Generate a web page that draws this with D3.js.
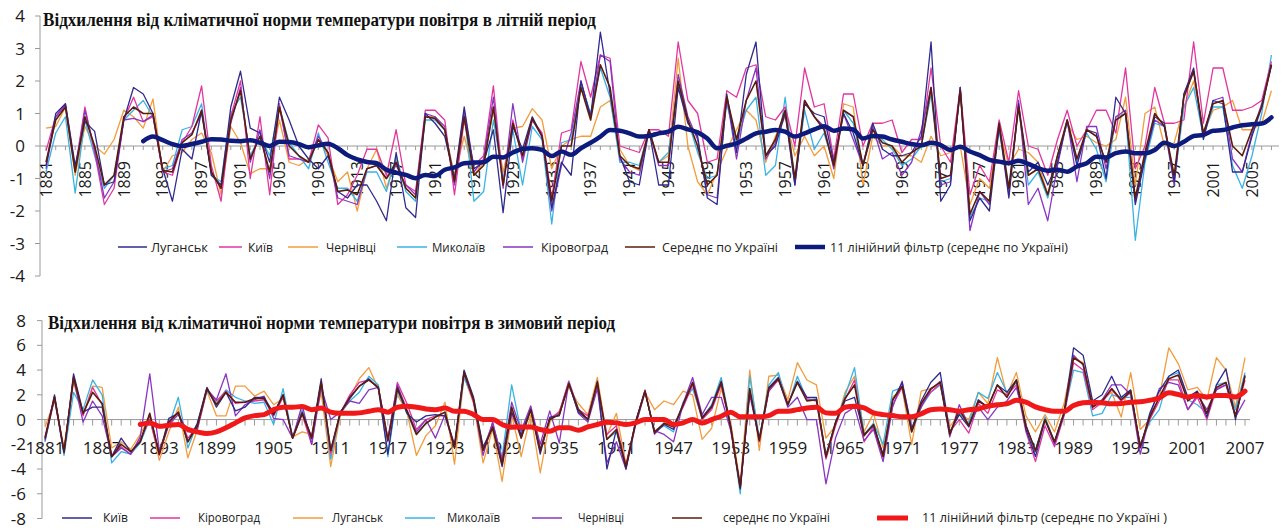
<!DOCTYPE html>
<html><head><meta charset="utf-8">
<script src="https://cdn.jsdelivr.net/npm/d3@7"></script>
<style>body{margin:0;background:#fff}svg{display:block}</style>
</head><body>
<svg id="c" width="1287" height="531"></svg>
<script>
// ---------- DATA ----------
const years = d3.range(1881, 2008);          // 1881..2007
const filterYears = d3.range(1891, 2008);    // filter shown from 1891

// Summer (top panel)
const summerTitle = "Відхилення від кліматичної норми температури повітря в літній період";
const summerYTicks = [-4,-3,-2,-1,0,1,2,3,4];
const summerXLabels = d3.range(1881, 2006, 4);
const sLugansk = [-0.6,1.0,1.3,-0.6,0.75,0.45,-1.2,-1.1,0.8,1.8, 1.6,1.0,-0.7,-1.7,-0.1,-0.4,1.1,-0.9,-1.2,1.2, 2.3,0.55,0.4,-0.5,1.5,0.8,0.0,-0.4,-0.7,-0.3, -1.4,-1.6,-1.2,-1.2,-1.7,-2.3,-0.2,-1.9,-2.2,1.0, 0.7,0.3,-1.0,1.2,-0.7,-0.5,0.5,-2.05,0.6,-0.1, 0.9,0.3,-1.9,-0.5,-0.9,2.0,0.9,3.5,1.6,-0.3, -1.1,-1.2,0.5,-1.2,-1.2,1.8,0.7,0.3,-1.6,-1.8, 1.6,-0.2,2.2,3.2,-0.3,0.0,1.0,-1.2,1.3,1.0, 0.9,-0.5,1.0,0.4,-0.6,0.7,-0.1,-0.3,-0.3,-0.2, 0.3,3.2,-1.7,-1.2,1.8,-2.3,-1.6,-2.0,0.6,-1.6, 1.3,-0.8,-0.5,-1.2,-0.5,0.8,-0.6,0.5,0.4,-1.0, 1.5,1.0,-1.8,-0.4,0.9,0.7,-1.1,1.6,2.4,0.2, 1.4,1.3,-0.8,-0.8,0.3,1.2,2.5];
const sKyiv = [-0.15,0.9,1.3,-0.7,1.2,-0.2,-1.8,-1.3,0.8,1.5, 0.75,0.9,-0.8,-0.9,0.1,0.6,1.85,-0.6,-1.7,0.9, 2.0,-1.0,0.9,-1.5,1.3,-0.4,-0.4,-0.5,0.65,0.25, -1.8,-1.5,-0.9,-0.1,-0.1,-0.9,0.5,-1.2,-1.4,1.1, 1.1,0.8,-1.5,0.8,-0.6,-0.3,1.85,-1.2,0.8,-0.4, 0.8,0.4,-1.6,0.4,0.5,2.6,1.5,2.8,2.7,0.0, -0.1,-0.2,0.5,0.5,0.3,3.2,1.4,1.0,-0.5,-0.4, 1.7,1.5,2.4,2.5,0.9,0.8,1.2,0.0,2.4,1.2, 1.3,-0.4,1.6,1.6,0.0,0.7,0.7,0.8,-0.2,0.2, 0.2,2.4,0.0,-0.5,1.8,-1.5,-0.6,-1.1,0.8,-0.5, 1.7,0.0,-0.1,-0.9,0.2,1.1,0.0,0.5,1.1,1.1, 0.4,2.4,-0.7,0.0,1.8,0.7,0.7,0.8,3.2,0.7, 2.4,2.4,1.1,1.1,1.2,1.4,2.6];
const sChernivtsi = [0.55,0.6,1.2,-0.9,0.6,0.0,-0.25,0.2,1.1,0.9, 0.55,1.45,-0.8,-0.3,-0.2,0.2,0.4,-0.2,-1.5,0.6, 0.1,-0.85,-0.7,-0.7,0.8,-0.5,-0.6,-0.4,0.2,-0.3, -1.1,-0.8,-2.0,-0.7,-0.1,-1.3,-0.4,-1.3,-1.6,0.9, 0.9,0.5,-0.9,0.3,-0.9,-0.5,1.1,-0.8,0.55,0.6, 1.15,0.8,-0.7,0.0,0.2,0.3,0.3,1.2,1.4,-0.1, -0.6,-0.75,0.5,-0.5,-0.3,2.7,0.0,-1.1,-1.5,-0.8, -0.1,0.5,1.1,0.8,-0.5,0.3,0.9,-0.3,0.3,-0.3, 0.0,-1.0,1.3,1.2,-1.2,0.3,0.0,0.0,-0.3,-0.3, -0.5,0.3,-0.3,-0.2,0.0,-1.8,-1.0,-1.3,0.5,-0.6, -0.1,-0.2,-0.5,-1.5,-0.3,0.7,0.2,0.3,0.1,0.0, 0.2,1.5,-1.2,1.0,1.2,0.0,0.1,1.2,2.0,0.4, 1.1,1.2,1.4,0.5,0.5,0.7,1.7];
const sMykolaiv = [-0.8,0.4,0.9,-1.45,0.8,-0.3,-1.3,-0.9,0.8,1.1, 1.4,0.9,-0.7,-0.6,0.5,0.6,1.3,-0.9,-1.1,1.0, 1.5,-0.3,0.3,-0.3,1.2,0.1,-0.3,-0.7,0.4,-0.5, -1.3,-1.3,-1.7,-0.8,-0.8,-1.4,-0.3,-1.4,-1.7,0.8, 0.8,0.5,-1.0,1.0,-1.7,-1.4,0.8,-1.0,0.5,-1.2, 0.6,0.2,-2.4,0.1,0.2,1.9,1.0,2.4,1.5,-0.5, -0.5,-0.6,0.5,-0.5,-0.2,1.9,0.8,-0.2,-1.0,-0.9, 1.3,0.1,1.1,1.5,-0.9,-0.6,1.5,-1.1,1.1,-0.1, 0.4,-0.6,1.1,0.7,-0.6,0.5,0.2,-0.1,-0.6,-0.4, 0.0,1.6,-1.1,-1.0,1.7,-2.2,-1.6,-1.7,0.5,-1.3, 1.2,-1.2,-0.8,-1.6,-0.3,0.7,-0.5,0.4,-0.1,-1.1, 0.9,1.0,-2.9,-0.5,0.7,0.6,-1.1,1.2,1.8,0.3, 1.2,1.2,-0.6,-1.3,-0.3,1.0,2.8];
const sKirovohrad = [-0.7,0.9,1.25,-0.75,1.1,-0.1,-1.6,-1.1,0.8,0.85, 0.75,0.95,-0.8,-0.7,0.2,0.4,1.0,-0.8,-1.3,0.7, 1.8,-0.5,0.5,-1.0,1.2,-0.3,-0.4,-0.5,0.3,-0.2, -1.6,-1.7,-1.8,-0.7,-0.6,-1.0,-0.6,-1.2,-1.5,1.0, 0.9,0.6,-1.2,1.1,-0.8,-0.4,1.5,-1.3,1.3,-0.5, 0.8,0.3,-2.0,-0.6,0.4,2.0,0.9,2.8,2.6,-0.4, -0.8,-0.9,0.5,-0.6,-0.6,2.2,0.9,0.2,-1.5,-1.6, 1.5,-0.4,1.4,2.4,-0.4,0.1,1.1,-1.2,1.4,0.9, 0.6,-0.7,1.0,0.2,-0.6,0.6,-0.4,-0.2,-0.9,-0.5, 0.5,1.8,-1.2,-1.1,1.8,-2.6,-1.4,-1.8,0.7,-1.5, 1.4,-1.8,-1.3,-2.3,-0.6,0.8,-1.1,0.6,0.6,-0.7, 0.9,1.1,-1.7,-0.3,0.8,0.6,-1.2,1.6,2.3,0.3, 1.4,1.5,-0.4,-0.8,0.4,1.3,2.5];
const sMean = [-0.5,0.8,1.2,-0.8,0.9,0.0,-1.2,-0.9,0.9,1.2, 1.0,1.0,-0.75,-0.8,0.1,0.35,1.1,-0.8,-1.3,0.8, 1.7,-0.4,0.3,-0.8,1.2,0.0,-0.3,-0.5,0.2,-0.2, -1.4,-1.35,-1.5,-0.7,-0.6,-1.0,-0.5,-1.3,-1.6,0.9, 0.85,0.5,-1.1,0.9,-0.9,-0.6,1.2,-1.2,0.7,-0.3, 0.85,0.3,-1.7,0.0,0.0,1.8,0.8,2.5,1.8,-0.3, -0.6,-0.7,0.5,-0.5,-0.5,2.0,0.8,0.0,-1.2,-0.9, 1.5,0.2,1.4,2.0,-0.3,0.2,1.1,-1.0,1.4,0.9, 0.5,-0.6,1.1,0.9,-0.6,0.5,0.1,0.0,-0.5,-0.2, 0.0,1.8,-1.0,-0.9,1.7,-2.1,-1.4,-1.7,0.7,-1.3, 1.2,-0.9,-0.7,-1.5,-0.3,0.8,-0.4,0.5,0.3,-0.5, 0.8,1.0,-1.6,-0.2,1.0,0.6,-0.9,1.5,2.3,0.4, 1.3,1.4,0.0,-0.3,0.5,1.2,2.5];
const sFilter = [0.15,0.29,0.18,0.06,0.0,0.06,0.13,0.21,0.2,0.16, 0.15,0.18,0.1,0.0,0.13,0.12,0.06,-0.04,0.02,0.07, -0.07,-0.28,-0.41,-0.49,-0.53,-0.73,-0.82,-0.89,-0.99,-0.89, -0.92,-0.73,-0.66,-0.53,-0.51,-0.5,-0.33,-0.35,-0.2,-0.09, -0.07,-0.12,-0.31,-0.17,-0.27,-0.07,0.1,0.29,0.49,0.47, 0.39,0.29,0.31,0.39,0.44,0.59,0.51,0.42,0.23,-0.07, 0.01,0.08,0.23,0.39,0.44,0.49,0.44,0.29,0.39,0.51, 0.61,0.47,0.54,0.51,0.23,0.31,0.29,0.2,0.13,0.06, 0.02,0.1,0.03,-0.12,-0.02,-0.17,-0.28,-0.43,-0.48,-0.53, -0.45,-0.55,-0.68,-0.76,-0.73,-0.79,-0.63,-0.53,-0.33,-0.35, -0.22,-0.17,-0.22,-0.22,-0.12,0.1,0.0,0.13,0.31,0.34, 0.47,0.49,0.57,0.64,0.67,0.69,0.88];

// Winter (bottom panel)
const winterTitle = "Відхилення від кліматичної норми температури повітря в зимовий період";
const winterYTicks = [-8,-6,-4,-2,0,2,4,6,8];
const winterXLabels = d3.range(1881, 2008, 6);
const wKyiv = [-1.6,2.0,-2.7,3.7,0.6,1.0,1.0,-3.0,-1.5,-2.6, -1.8,0.4,-2.8,0.1,0.5,-1.8,-0.3,2.6,1.0,2.2, 0.7,1.0,1.8,1.8,0.5,2.0,-1.5,0.6,-1.4,3.3, -2.5,0.6,1.7,2.7,3.3,2.5,-2.8,2.6,0.5,-0.2, 0.3,0.4,0.3,-2.0,4.0,1.8,-2.2,-0.7,-3.8,0.6, -1.2,0.8,-2.8,0.2,0.3,2.9,0.6,0.0,3.1,-4.0, -0.8,-4.0,-0.2,2.3,-1.1,-0.4,-0.8,1.2,3.0,0.2, 1.1,3.1,-0.6,-5.6,2.3,-1.6,2.6,3.4,1.2,3.1, 1.8,1.8,-3.0,-0.2,1.5,1.8,-1.2,-0.5,-2.8,1.5, 3.0,-0.8,1.5,3.0,3.8,-1.0,0.4,-0.6,1.6,1.0, 2.8,2.2,3.2,-0.8,-3.0,0.0,-1.8,0.6,5.8,5.2, 1.5,2.0,3.5,1.8,2.4,-2.3,0.5,2.3,3.5,4.0, 1.8,2.3,0.2,2.8,4.1,0.0,3.6];
const wKirovohrad = [-1.4,1.9,-2.6,3.5,0.3,2.6,1.2,-3.0,-2.2,-2.8, -1.6,0.0,-2.9,-0.3,0.6,-1.5,-0.6,2.5,1.5,2.3, 1.3,1.4,1.5,1.6,0.3,1.8,-1.5,0.4,-2.0,3.0, -2.8,0.5,2.0,3.0,3.2,2.6,-1.8,3.0,1.3,-0.8, 0.0,0.3,0.3,-2.2,3.8,1.4,-2.5,-0.3,-3.3,0.5, -1.5,0.8,-2.4,0.1,0.6,3.1,0.8,0.3,2.8,-1.2, -0.5,-3.7,-0.3,2.4,-1.2,-0.3,-0.5,1.0,2.8,0.0, 0.8,2.8,-0.8,-5.3,2.4,-1.8,2.3,3.2,1.3,3.0, 1.7,1.5,-3.2,-0.5,1.6,3.2,-1.8,-0.6,-3.0,1.2, 2.6,-0.9,1.2,2.2,2.9,-1.0,0.0,-1.1,1.3,0.5, 2.4,2.0,2.8,-1.0,-3.4,-0.5,-2.2,0.3,4.6,4.0, 0.8,1.4,2.4,1.5,2.2,-2.1,0.0,1.5,3.2,3.2, 0.8,1.8,0.0,2.5,2.8,0.3,3.2];
const wLugansk = [-0.6,1.5,-2.2,3.0,0.4,2.7,2.6,-2.3,-1.8,-2.4, -1.2,0.2,-3.3,-1.0,1.0,-3.1,-0.8,2.3,0.3,0.3, 2.7,2.7,1.9,2.3,1.2,1.7,-1.4,-1.0,-1.2,2.2, -3.8,0.3,1.8,3.3,4.2,2.5,-1.5,2.0,0.6,-2.9, -1.3,-0.5,1.4,-3.6,3.5,1.3,-3.5,-0.8,-5.0,0.4, -3.0,0.4,-4.3,-0.2,0.7,2.6,1.3,0.4,3.4,-1.3, 0.5,-3.6,-0.4,2.2,0.8,1.5,1.2,2.3,2.0,-1.6, -0.7,2.5,-0.2,-5.2,4.0,-2.5,3.5,3.6,1.6,4.6, 3.2,2.8,-1.5,-0.5,2.2,3.5,-1.0,0.5,-2.3,1.8, 2.5,-2.0,2.3,2.5,2.8,-0.6,0.5,0.0,2.2,1.3, 5.0,2.0,3.8,0.3,-1.0,0.4,-1.0,1.3,5.0,4.6, 1.0,1.6,2.2,0.2,3.8,-0.8,0.0,1.8,5.8,4.5, 2.4,2.6,1.6,5.0,4.0,1.0,5.0];
const wMykolaiv = [-1.8,1.8,-2.9,2.2,0.8,3.2,2.0,-3.5,-2.6,-2.8, -1.9,0.0,-2.6,-0.5,1.8,-2.3,-0.3,2.3,1.3,2.4, 1.8,1.5,1.3,1.4,-0.4,2.5,-1.4,0.8,-1.6,2.8, -3.2,0.5,1.5,2.2,3.5,2.8,-3.0,2.3,0.5,-1.2, -0.3,0.2,0.6,-2.3,3.4,1.6,-2.3,-0.4,-3.0,2.8, -1.0,1.0,-2.4,0.0,0.5,3.1,0.9,-0.1,2.9,-1.6, -1.0,-3.9,-0.2,2.3,-1.0,-0.5,-1.0,1.4,2.5,0.1, 1.2,3.4,-0.5,-6.0,3.5,-1.5,2.8,3.8,1.1,3.5, 1.6,1.7,-2.8,-0.3,1.9,4.2,-1.2,-0.3,-2.0,2.3, 2.6,-1.0,1.0,2.2,2.8,-1.1,0.5,-0.3,2.2,1.7, 3.8,2.2,3.0,-0.5,-2.6,0.2,-1.8,0.5,4.0,3.8, 0.3,0.5,2.0,1.8,1.8,-2.0,-0.2,0.8,3.5,3.8, 1.6,1.2,0.5,2.8,3.0,0.8,3.8];
const wChernivtsi = [-1.7,1.7,-2.6,3.3,-0.2,1.5,0.3,-3.0,-2.3,-2.8, -1.4,3.7,-2.5,-0.4,0.4,-1.0,-0.8,2.4,1.6,3.7, 0.3,1.2,1.6,1.9,0.1,0.0,-1.5,1.2,-2.0,2.6, 0.0,0.6,1.5,1.3,2.4,2.6,-1.5,2.8,0.8,-1.0, 0.0,-1.5,0.4,-2.3,3.9,1.5,-2.9,-0.2,-3.3,1.4, -0.9,1.1,-2.0,0.7,-1.9,3.0,0.5,-0.2,2.5,-3.5, -1.8,-4.0,-0.5,2.2,-0.9,-1.2,-1.8,1.3,3.4,0.4, 1.8,1.8,-0.9,-5.4,2.0,-1.6,2.3,3.3,1.0,1.8, 0.0,0.0,-5.2,-1.5,0.5,1.0,-1.7,-0.8,-3.4,1.0, 3.1,-0.7,1.0,2.4,3.1,-1.4,1.2,-0.5,1.0,0.0, 1.0,1.5,2.6,-0.5,-2.6,0.0,-2.0,0.4,5.2,4.4, 1.1,1.6,2.8,2.8,2.0,-2.8,0.3,2.5,3.0,2.8, 0.8,2.0,0.8,2.4,2.8,0.2,1.6];
const wMean = [-1.5,1.8,-2.6,3.4,0.5,2.2,1.3,-3.0,-2.0,-2.6, -1.8,0.5,-2.8,-0.2,0.6,-1.8,-0.5,2.5,1.2,2.2, 1.4,1.4,1.7,1.7,0.4,2.0,-1.5,0.5,-1.5,3.0, -2.5,0.5,1.8,2.7,3.2,2.6,-1.7,2.5,0.7,-1.2, -0.3,0.2,0.6,-2.3,3.8,1.6,-2.5,-0.6,-3.6,1.0, -1.5,0.8,-2.5,0.0,0.4,2.9,0.8,0.0,3.0,-1.6, -0.8,-3.8,-0.3,2.3,-1.0,-0.3,-0.6,1.2,3.0,0.1, 1.0,3.0,-0.6,-5.5,2.5,-1.7,2.5,3.3,1.2,3.0, 1.5,1.6,-3.0,-0.3,1.7,2.8,-1.3,-0.4,-3.0,1.6, 2.7,-1.0,1.3,2.5,3.0,-1.2,0.8,-0.5,1.5,1.0, 2.8,1.8,3.2,-0.5,-2.5,0.0,-1.8,0.5,5.0,4.5, 1.0,1.5,2.5,1.6,2.3,-2.2,0.2,1.8,3.3,3.6, 1.5,2.2,0.5,2.6,3.0,0.3,3.5];
const wFilter = [-0.4,-0.27,-0.54,-0.46,-0.4,-0.8,-1.0,-1.13,-1.0,-0.67, -0.27,0.13,0.32,0.4,0.8,1.0,1.0,1.05,0.8,0.94, 0.6,0.5,0.5,0.54,0.67,0.8,0.6,1.0,1.08,1.0, 0.86,0.8,0.94,0.67,0.67,0.4,0.0,0.0,-0.4,-0.62, -0.6,-0.6,-0.8,-0.94,-0.67,-0.67,-0.86,-0.6,-0.4,-0.22, -0.27,-0.4,-0.27,0.0,0.0,0.0,-0.4,-0.27,0.0,-0.27, 0.0,0.27,0.6,0.22,0.22,0.22,0.32,0.67,0.67,0.8, 0.94,1.0,0.54,0.5,1.0,1.08,0.94,0.54,0.4,0.32, 0.22,0.22,0.46,0.8,0.86,0.8,0.67,0.8,0.86,1.08, 1.2,1.27,1.56,1.4,1.02,0.8,0.67,0.67,1.13,1.35, 1.4,1.35,1.27,1.3,1.4,1.43,1.56,1.75,2.16,2.02, 1.83,1.94,1.83,1.94,1.94,1.83,2.3];

// ---------- DRAW ----------
const svg = d3.select("#c");
svg.append("rect").attr("width",1287).attr("height",531).attr("fill","#fff");
const AX = "#9a9a9a";
const labelLayer = svg.append("g");

function panel(o){
  const g = svg.append("g");
  const x = d3.scaleLinear().domain(o.xDom).range(o.xRng);
  const y = d3.scaleLinear().domain(o.yDom).range(o.yRng);
  // y axis line + ticks
  g.append("line").attr("x1",o.axisX).attr("x2",o.axisX).attr("y1",y(o.yDom[0])).attr("y2",y(o.yDom[1])).attr("stroke",AX);
  g.append("g").selectAll("line").data(o.yTicks).join("line")
    .attr("x1",o.axisX-5).attr("x2",o.axisX).attr("y1",d=>y(d)).attr("y2",d=>y(d)).attr("stroke",AX);
  // zero axis with yearly ticks
  g.append("line").attr("x1",o.axisX).attr("x2",o.xEnd).attr("y1",y(0)).attr("y2",y(0)).attr("stroke",AX).attr("stroke-width",1);
  g.append("g").selectAll("line").data(years).join("line")
    .attr("x1",d=>x(d)).attr("x2",d=>x(d)).attr("y1",y(0)).attr("y2",y(0)+o.tickLen).attr("stroke",AX);
  // x labels
  const xl = g.append("g").selectAll("text").data(o.xLabels).join("text")
    .text(d=>d).attr("fill","#1a1a1a")
    .style("font-family","'Open Sans',sans-serif").style("font-size",o.xFont+"px");
  if(o.rotate){
    xl.attr("transform",d=>`translate(${x(d)},${o.xLabelY}) rotate(-90)`).attr("text-anchor","end").attr("dy","0.36em");
  } else {
    xl.attr("x",d=>x(d)).attr("y",o.xLabelY).attr("text-anchor","middle");
  }
  // series
  const line = d3.line().x((d,i)=>x(years[i])).y(d=>y(d));
  o.series.forEach(s=>{
    g.append("path").datum(s.values).attr("d",line).attr("fill","none")
      .attr("stroke",s.color).attr("stroke-width",s.w).attr("stroke-linejoin","round");
  });
  const fline = d3.line().x((d,i)=>x(filterYears[i])).y(d=>y(d)).curve(d3.curveMonotoneX);
  g.append("path").datum(o.filter.values).attr("d",fline).attr("fill","none")
    .attr("stroke",o.filter.color).attr("stroke-width",o.filter.w).attr("stroke-linejoin","round").attr("stroke-linecap","round");
  // title
  g.append("text").attr("x",o.titleX).attr("y",o.titleY).text(o.title)
    .attr("textLength",o.titleLen).attr("lengthAdjust","spacingAndGlyphs")
    .style("font-family","'Liberation Serif',serif").style("font-weight","bold").style("font-size",o.titleFont+"px").attr("fill","#111");
  // legend
  const lg = g.append("g");
  o.legend.forEach(l=>{
    lg.append("line").attr("x1",l.x1).attr("x2",l.x2).attr("y1",o.legY).attr("y2",o.legY)
      .attr("stroke",l.color).attr("stroke-width",l.w);
    lg.append("text").attr("x",l.tx).attr("y",o.legY).attr("dy","0.35em").text(l.label)
      .attr("textLength",l.tw).attr("lengthAdjust","spacingAndGlyphs")
      .style("font-family","'Open Sans',sans-serif").style("font-size",o.legFont+"px").attr("fill","#222");
  });
  // y labels (top-most layer)
  labelLayer.append("g").selectAll("text").data(o.yTicks).join("text")
    .attr("x",o.yLabelX).attr("y",d=>y(d)).attr("dy","0.36em").attr("text-anchor","end")
    .text(d=>d).attr("fill","#1a1a1a")
    .style("font-family","'Open Sans',sans-serif").style("font-size",o.yFont+"px");
}

const C = {lug:"#2f2a8e", kyiv:"#e2359f", cher:"#f39c3c", myk:"#39b3e4", kir:"#8a35c2", mean:"#5b1c0c", fTop:"#0d1b7c", fBot:"#f01818"};

panel({
  xDom:[1881,2005], xRng:[46,1252], yDom:[-4,4], yRng:[276,16],
  axisX:40, xEnd:1279, yTicks:summerYTicks, yLabelX:25, yFont:17, tickLen:4,
  xLabels:summerXLabels, rotate:true, xLabelY:161, xFont:16,
  series:[
    {values:sChernivtsi,color:C.cher,w:1.3},
    {values:sMykolaiv,color:C.myk,w:1.3},
    {values:sKyiv,color:C.kyiv,w:1.3},
    {values:sKirovohrad,color:C.kir,w:1.3},
    {values:sLugansk,color:C.lug,w:1.3},
    {values:sMean,color:C.mean,w:1.6}
  ],
  filter:{values:sFilter,color:C.fTop,w:4.5},
  title:summerTitle, titleX:43, titleY:26, titleLen:553, titleFont:19,
  legY:247, legFont:13,
  legend:[
    {label:"Луганськ",x1:118,x2:147,tx:151,tw:57,color:C.lug,w:1.5},
    {label:"Київ",x1:219,x2:242,tx:248,tw:25,color:C.kyiv,w:1.5},
    {label:"Чернівці",x1:288,x2:318,tx:326,tw:50,color:C.cher,w:1.5},
    {label:"Миколаїв",x1:397,x2:427,tx:432,tw:53,color:C.myk,w:1.5},
    {label:"Кіровоград",x1:503,x2:533,tx:541,tw:67,color:C.kir,w:1.5},
    {label:"Середнє по Україні",x1:625,x2:655,tx:662,tw:116,color:C.mean,w:1.5},
    {label:"11 лінійний фільтр (середнє по Україні)",x1:795,x2:825,tx:830,tw:238,color:C.fTop,w:4.5}
  ]
});

panel({
  xDom:[1881,2007], xRng:[45,1245], yDom:[-8,8], yRng:[518.5,320.6],
  axisX:42, xEnd:1250, yTicks:winterYTicks, yLabelX:26, yFont:17, tickLen:6,
  xLabels:winterXLabels, rotate:false, xLabelY:454, xFont:17,
  series:[
    {values:wLugansk,color:C.cher,w:1.3},
    {values:wMykolaiv,color:C.myk,w:1.3},
    {values:wKirovohrad,color:C.kyiv,w:1.3},
    {values:wChernivtsi,color:C.kir,w:1.3},
    {values:wKyiv,color:C.lug,w:1.3},
    {values:wMean,color:C.mean,w:1.6}
  ],
  filter:{values:wFilter,color:C.fBot,w:5},
  title:winterTitle, titleX:48, titleY:329, titleLen:567, titleFont:19,
  legY:518, legFont:12.5,
  legend:[
    {label:"Київ",x1:62,x2:92,tx:103,tw:25,color:C.lug,w:1.5},
    {label:"Кіровоград",x1:150,x2:180,tx:198,tw:62,color:C.kyiv,w:1.5},
    {label:"Луганськ",x1:293,x2:323,tx:332,tw:51,color:C.cher,w:1.5},
    {label:"Миколаїв",x1:405,x2:435,tx:447,tw:53,color:C.myk,w:1.5},
    {label:"Чернівці",x1:532,x2:562,tx:578,tw:46,color:C.kir,w:1.5},
    {label:"середнє по Україні",x1:672,x2:702,tx:723,tw:107,color:C.mean,w:1.5},
    {label:"11 лінійний фільтр (середнє по Україні )",x1:877,x2:908,tx:922,tw:245,color:C.fBot,w:5}
  ]
});
labelLayer.raise();
</script>
</body></html>
